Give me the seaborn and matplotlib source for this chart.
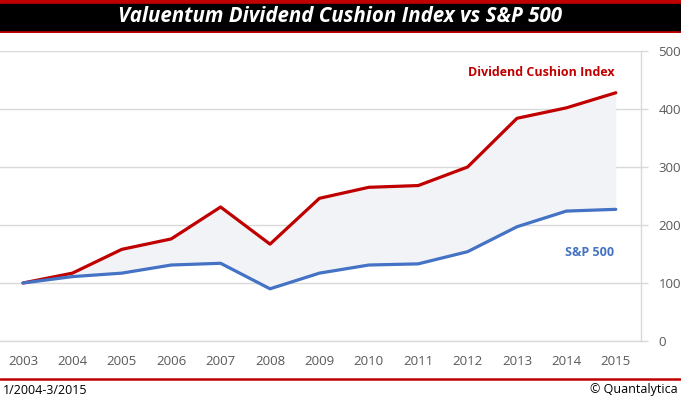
import matplotlib
matplotlib.use("Agg")
import matplotlib.pyplot as plt
import seaborn as sns
import pandas as pd
import numpy as np

years = ["2003", "2004", "2005", "2006", "2007", "2008", "2009",
         "2010", "2011", "2012", "2013", "2014", "2015"]
dci = [100, 117, 158, 176, 231, 167, 246, 265, 268, 300, 384, 402, 428]
sp500 = [100, 111, 117, 131, 134, 90, 117, 131, 133, 154, 197, 224, 227]
yticks = [0, 100, 200, 300, 400, 500]

title = "Valuentum Dividend Cushion Index vs S&P 500"
footer_left = "1/2004-3/2015"
footer_right = "© Quantalytica"

RED = "#C00000"
BLUE = "#4472C4"
GRID = "#D9D9D9"
TXT = "#595959"

sns.set_style("white")
plt.rcParams["font.family"] = ["Open Sans", "DejaVu Sans"]

W, H = 681, 399
fig = plt.figure(figsize=(W / 100, H / 100), dpi=100)

# title band
band = fig.add_axes([0, 1 - 33 / H, 1, 33 / H])
band.set_xlim(0, 1); band.set_ylim(0, 33)
band.axis("off")
band.axhspan(0, 33, color=RED)
band.axhspan(3.5, 29.5, color="black")
band.text(0.5, 16.5, title, color="white", fontsize=14.8, fontweight="bold",
          fontstyle="italic", ha="center", va="center", family=["Open Sans", "DejaVu Sans"])

# main axes
ax = fig.add_axes([-1.7 / W, 58 / H, 642.2 / W, 290 / H])
df = pd.DataFrame({"year": np.arange(len(years)), "dci": dci, "sp": sp500})
ax.fill_between(df["year"], df["sp"], df["dci"], color="#F2F3F7", zorder=1, linewidth=0)
sns.lineplot(data=df, x="year", y="dci", ax=ax, color=RED, linewidth=2.3, zorder=3)
sns.lineplot(data=df, x="year", y="sp", ax=ax, color=BLUE, linewidth=2.3, zorder=3)

ax.set_xlim(-0.5, len(years) - 0.5)
ax.set_ylim(0, 500)
ax.set_yticks(yticks)
ax.yaxis.tick_right()
ax.yaxis.set_label_position("right")
ax.set_yticklabels([str(v) for v in yticks])
ax.set_xticks(np.arange(len(years)))
ax.set_xticklabels(years)
ax.set_xticks(np.arange(len(years) + 1) - 0.5, minor=True)
ax.tick_params(axis="x", which="major", length=0, pad=10, labelsize=9.5, labelcolor=TXT)
ax.tick_params(axis="x", which="minor", length=5, width=1, color=GRID, direction="out")
ax.tick_params(axis="y", which="major", length=5, width=1, color=GRID, pad=8,
               labelsize=9.5, labelcolor=TXT, direction="out")
ax.set_xlabel(""); ax.set_ylabel("")
ax.grid(axis="y", color=GRID, linewidth=1, zorder=0)
ax.set_axisbelow(True)
for s in ["top", "left"]:
    ax.spines[s].set_visible(False)
ax.spines["bottom"].set_color(GRID)
ax.spines["right"].set_color(GRID)
ax.spines["bottom"].set_linewidth(1)
ax.spines["right"].set_linewidth(1)

ax.text(11.97, 463, "Dividend Cushion Index", color=RED, fontsize=9, fontweight="bold",
        ha="right", va="center")
ax.text(11.97, 152, "S&P 500", color=BLUE, fontsize=9, fontweight="bold",
        ha="right", va="center")

# footer
fax = fig.add_axes([0, 0, 1, 22 / H])
fax.set_xlim(0, W); fax.set_ylim(0, 22)
fax.axis("off")
fax.axhline(20.5, color=RED, linewidth=1.8)
fax.text(3, 9, footer_left, fontsize=9, color="black", ha="left", va="center")
fax.text(W - 3, 9, footer_right, fontsize=9, color="black", ha="right", va="center")

fig.savefig("out.png", dpi=100)
